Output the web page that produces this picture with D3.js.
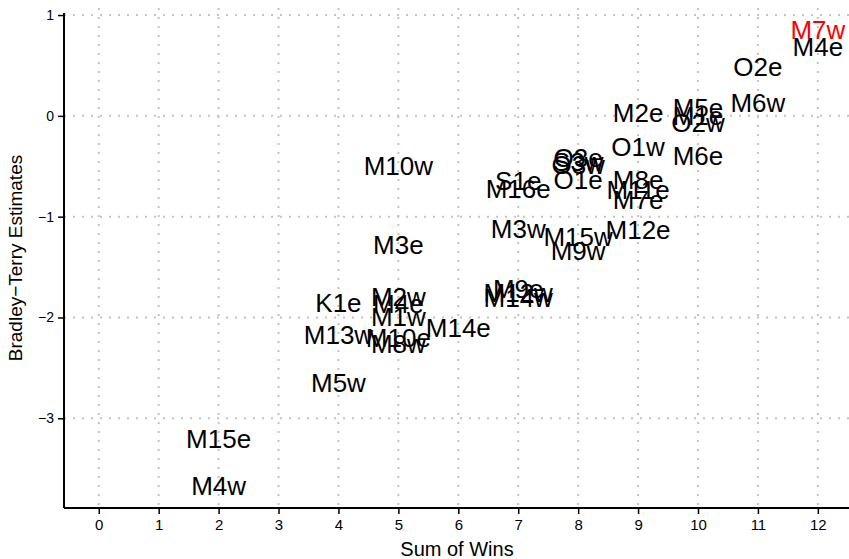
<!DOCTYPE html>
<html>
<head>
<meta charset="utf-8">
<script src="https://cdn.jsdelivr.net/npm/d3@7"></script>
<style>
  body { margin: 0; background: #fff; }
  .grid line { stroke: #c4c4c4; stroke-width: 2; stroke-dasharray: 2,7; }
  .lbl { font-family: "Liberation Sans", Arial, sans-serif; font-size: 26px; }
</style>
</head>
<body>
<svg id="chart"></svg>
<script>
const labels = ["M7w", "M4e", "O2e", "M6w", "M5e", "M1e", "O2w", "M2e", "O1w", "M6e",
    "O3e", "S3w", "O3w", "O1e", "M8e", "M11e", "M7e", "S1e", "M16e", "M10w",
    "M3e", "M3w", "M15w", "M9w", "M12e", "M9e", "M12w", "M14w", "M2w", "M4e",
    "K1e", "M1w", "M13w", "M14e", "M10e", "M8w", "M5w", "M15e", "M4w"];
const wins = [12, 12, 11, 11, 10, 10, 10, 9, 9, 10,
    8, 8, 8, 8, 9, 9, 9, 7, 7, 5,
    5, 7, 8, 8, 9, 7, 7, 7, 5, 5,
    4, 5, 4, 6, 5, 5, 4, 2, 2];
const estimates = [0.85, 0.685, 0.49, 0.13, 0.08, 0.0, -0.07, 0.03, -0.31, -0.40,
    -0.42, -0.46, -0.49, -0.64, -0.64, -0.73, -0.83, -0.65, -0.72, -0.50,
    -1.28, -1.12, -1.20, -1.34, -1.13, -1.72, -1.76, -1.81, -1.80, -1.87,
    -1.86, -1.99, -2.17, -2.10, -2.20, -2.26, -2.65, -3.20, -3.67];
const highlighted = new Set(["M7w"]);
const xTicks = [0, 1, 2, 3, 4, 5, 6, 7, 8, 9, 10, 11, 12];
const yTicks = [-3, -2, -1, 0, 1];

const data = labels.map((d, i) => ({ name: d, wins: wins[i], est: estimates[i] }));

const width = 849, height = 559;
const plotLeft = 64, plotBottom = 508, plotRight = 849, plotTop = 8;

const svg = d3.select("#chart")
    .attr("width", width)
    .attr("height", height);

const xScale = d3.scaleLinear().domain([-0.58, 12.52]).range([plotLeft, plotRight]);
const yScale = d3.scaleLinear().domain([-3.89, 1.07]).range([plotBottom, plotTop]);

// dotted grid
const grid = svg.append("g").attr("class", "grid");
grid.selectAll(".vg").data(xTicks).enter().append("line")
    .attr("x1", d => xScale(d)).attr("x2", d => xScale(d))
    .attr("y1", plotTop).attr("y2", plotBottom);
grid.selectAll(".hg").data(yTicks).enter().append("line")
    .attr("x1", plotLeft).attr("x2", plotRight)
    .attr("y1", d => yScale(d)).attr("y2", d => yScale(d));

// axes
const xAxis = svg.append("g")
    .attr("transform", `translate(0,${plotBottom})`)
    .call(d3.axisBottom(xScale).tickValues(xTicks).tickSize(6).tickPadding(5));
xAxis.select(".domain").attr("d", `M${plotLeft},0H${plotRight}`);
xAxis.selectAll("text")
    .style("font-family", "'Liberation Sans Narrow', 'Liberation Sans', Arial, sans-serif")
    .style("font-size", "15px");

const yAxis = svg.append("g")
    .attr("transform", `translate(${plotLeft},0)`)
    .call(d3.axisLeft(yScale).tickValues(yTicks).tickSize(6).tickPadding(4)
        .tickFormat(d => d < 0 ? "\u2212" + Math.abs(d) : d));
yAxis.select(".domain").attr("d", `M0,${plotTop + 5}V${plotBottom}`);
yAxis.selectAll("text")
    .style("font-family", "'Liberation Sans', Arial, sans-serif")
    .style("font-size", "14px");

svg.selectAll(".domain").attr("stroke", "#000").attr("stroke-width", 2);
svg.selectAll(".tick line").attr("stroke", "#000").attr("stroke-width", 1.5);

// axis titles
svg.append("text")
    .attr("x", 457).attr("y", 556)
    .attr("text-anchor", "middle")
    .style("font-family", "'Liberation Sans Narrow', 'Liberation Sans', Arial, sans-serif")
    .style("font-size", "20px")
    .text("Sum of Wins");

svg.append("text")
    .attr("transform", `translate(22,${(plotTop + plotBottom) / 2}) rotate(-90)`)
    .attr("text-anchor", "middle")
    .style("font-family", "'Liberation Sans', Arial, sans-serif")
    .style("font-size", "19px")
    .text("Bradley\u2212Terry Estimates");

// text labels as points
svg.selectAll(".lbl").data(data).enter().append("text")
    .attr("class", "lbl")
    .attr("x", d => xScale(d.wins))
    .attr("y", d => yScale(d.est))
    .attr("dy", "0.35em")
    .attr("text-anchor", "middle")
    .style("fill", d => highlighted.has(d.name) ? "#ff0000" : "#000")
    .text(d => d.name);
</script>
</body>
</html>
